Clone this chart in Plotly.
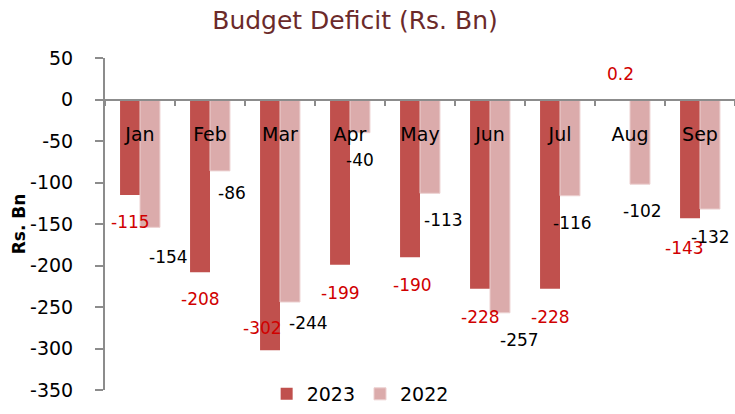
import plotly.graph_objects as go

months = ["Jan", "Feb", "Mar", "Apr", "May", "Jun", "Jul", "Aug", "Sep"]
deficit_2023 = [-115, -208, -302, -199, -190, -228, -228, 0.2, -143]
deficit_2022 = [-154, -86, -244, -40, -113, -257, -116, -102, -132]
y_ticks = [50, 0, -50, -100, -150, -200, -250, -300, -350]
y_tick_text = ["50", "0", "-50", "-100", "-150", "-200", "-250", "-300", "-350"]

# label nudges in px (dx right, dy down) relative to the bar end, like the hand-moved excel labels
nudge_2023 = [(0, 27), (0, 27), (-8, -22), (0, 28), (2, 28), (0, 28), (0, 28), (0, -25), (-6, 30)]
nudge_2022 = [(18, 30), (12, 22), (18, 21), (0, 27), (13, 27), (19, 27), (2, 27), (2, 27), (0, 28)]

FONT = "DejaVu Sans"
AXIS_GREY = "#8c8c8c"

fig = go.Figure()
fig.add_trace(go.Bar(x=months, y=deficit_2023, name="2023",
                     marker=dict(color="#c0504d", line=dict(width=0))))
fig.add_trace(go.Bar(x=months, y=deficit_2022, name="2022",
                     marker=dict(color="#dbabab", line=dict(color="#ecd0d0", width=1))))

annotations = []
for vals, nudges, side, color in [(deficit_2023, nudge_2023, -10, "#d00000"),
                                  (deficit_2022, nudge_2022, 10, "#000000")]:
    for m, v, (dx, dy) in zip(months, vals, nudges):
        annotations.append(dict(x=m, y=v, xref="x", yref="y", text=f"{v:g}",
                                showarrow=False, xshift=side + dx, yshift=-dy,
                                font=dict(family=FONT, size=17, color=color)))

fig.update_layout(
    title=dict(text="Budget Deficit (Rs. Bn)", x=0.483, xanchor="center", y=0.95, yanchor="middle",
               font=dict(family=FONT, size=25, color="#6b2a2a")),
    barmode="group", bargap=0.43, bargroupgap=0,
    width=735, height=414,
    paper_bgcolor="white", plot_bgcolor="white",
    margin=dict(l=105, r=0, t=58, b=24),
    xaxis=dict(anchor="free", position=0.875, showline=True, linecolor=AXIS_GREY, linewidth=2,
               ticks="outside", tickson="boundaries", ticklen=5, tickcolor=AXIS_GREY, tickwidth=2,
               ticklabelstandoff=18, tickfont=dict(family=FONT, size=19, color="#000000"),
               showgrid=False, zeroline=False, automargin=False),
    yaxis=dict(range=[-350, 50], tickvals=y_ticks, ticktext=y_tick_text,
               showline=True, linecolor=AXIS_GREY, linewidth=2,
               ticks="outside", ticklen=8, tickcolor=AXIS_GREY, tickwidth=2, ticklabelstandoff=18,
               tickfont=dict(family=FONT, size=19, color="#000000"),
               showgrid=False, zeroline=False, automargin=False,
               title=dict(text="<b>Rs. Bn</b>", standoff=0, font=dict(family=FONT, size=17, color="#000000"))),
    # kept low enough to sit inside the figure so it does not push the bottom margin
    legend=dict(orientation="h", x=0.405, xanchor="center", y=-0.012, yanchor="middle",
                font=dict(family=FONT, size=19, color="#000000"), itemwidth=30),
    annotations=annotations,
)

# drop the default body margin so the 735x414 figure sits flush in the window
fig.write_html("out.html", config={"displayModeBar": False},
               post_script="document.body.style.margin = '0';")
